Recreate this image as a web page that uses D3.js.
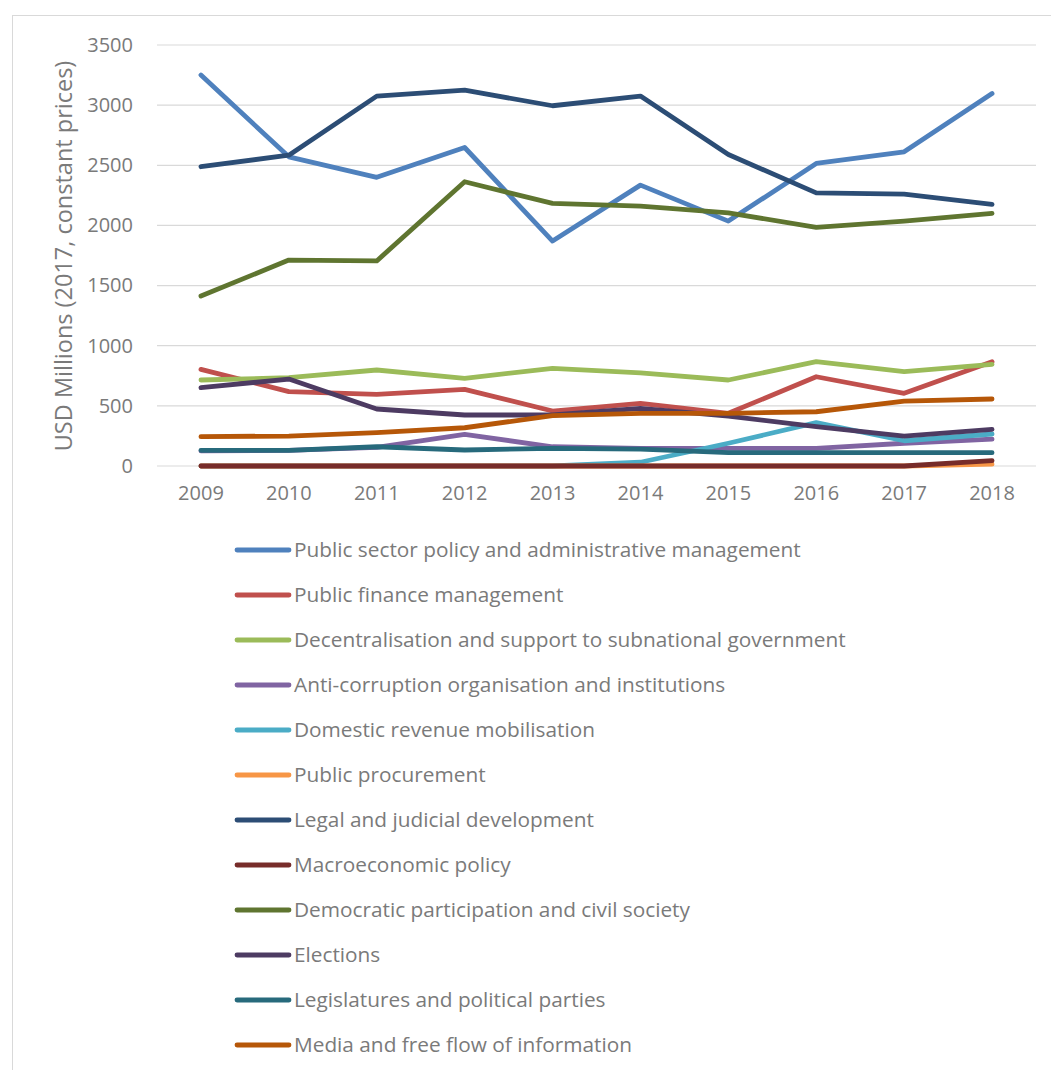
<!DOCTYPE html>
<html>
<head>
<meta charset="utf-8">
<script src="https://cdn.jsdelivr.net/npm/d3@7"></script>
<style>
  body { margin: 0; background: #fff; }
  text { font-family: "Open Sans", Lato, sans-serif; fill: #7a7a7a; }
</style>
</head>
<body>
<svg id="chart" width="1051" height="1070"></svg>
<script>
// the data
const years = ["2009", "2010", "2011", "2012", "2013", "2014", "2015", "2016", "2017", "2018"];
const yTicks = [0, 500, 1000, 1500, 2000, 2500, 3000, 3500];

const seriesNames = [
  "Public sector policy and administrative management",
  "Public finance management",
  "Decentralisation and support to subnational government",
  "Anti-corruption organisation and institutions",
  "Domestic revenue mobilisation",
  "Public procurement",
  "Legal and judicial development",
  "Macroeconomic policy",
  "Democratic participation and civil society",
  "Elections",
  "Legislatures and political parties",
  "Media and free flow of information"
];
const seriesColors = ["#4F81BD", "#C0504D", "#9BBB59", "#8064A2", "#4BACC6", "#F79646",
  "#2C4D75", "#772C2A", "#5F7530", "#4D3B62", "#276A7C", "#B65708"];

const publicSector   = [3250, 2570, 2400, 2648, 1870, 2335, 2036, 2515, 2612, 3097];
const publicFinance  = [803, 618, 596, 637, 457, 521, 438, 742, 604, 867];
const decentral      = [715, 734, 798, 729, 812, 775, 715, 867, 784, 845];
const antiCorruption = [125, 130, 155, 263, 160, 147, 147, 147, 189, 224];
const domesticRev    = [0, 0, 0, 0, 0, 31, 189, 360, 210, 266];
const procurement    = [0, 0, 0, 0, 0, 0, 0, 0, 0, 15];
const legalJudicial  = [2488, 2584, 3075, 3124, 2995, 3075, 2590, 2271, 2260, 2175];
const macroecon      = [0, 0, 0, 0, 0, 0, 0, 0, 0, 44];
const democratic     = [1413, 1712, 1705, 2363, 2183, 2160, 2105, 1983, 2036, 2100];
const elections      = [651, 723, 474, 424, 424, 479, 415, 327, 249, 305];
const legislatures   = [130, 130, 160, 133, 147, 141, 111, 111, 111, 111];
const media          = [244, 249, 277, 318, 418, 438, 438, 451, 540, 557];

const allValues = [publicSector, publicFinance, decentral, antiCorruption, domesticRev, procurement,
  legalJudicial, macroecon, democratic, elections, legislatures, media];

const series = seriesNames.map((n, i) => ({name: n, color: seriesColors[i], values: allValues[i]}));

// The svg
let svg = d3.select("#chart");

// chart frame
svg.append("rect")
  .attr("x", 12.5).attr("y", 15.5)
  .attr("width", 1060).attr("height", 1080)
  .attr("fill", "none").attr("stroke", "#D9D9D9");

let x = d3.scaleBand().domain(years).range([157, 1036]);
let y = d3.scaleLinear().domain([0, 3500]).range([466, 45]);

// gridlines
svg.append("g")
  .selectAll("line")
  .data(yTicks)
  .enter().append("line")
  .attr("x1", 157).attr("x2", 1036)
  .attr("y1", d => y(d)).attr("y2", d => y(d))
  .attr("stroke", "#D9D9D9").attr("stroke-width", 1.2);

// y axis
let yAxis = svg.append("g")
  .attr("transform", "translate(145,0)")
  .call(d3.axisLeft(y).tickValues(yTicks).tickFormat(d3.format("d")).tickSize(0).tickPadding(12));
yAxis.select(".domain").remove();
yAxis.selectAll("text").attr("font-size", 20).attr("fill", "#7a7a7a").attr("font-family", "'Open Sans', sans-serif");

// x axis
let xAxis = svg.append("g")
  .attr("transform", "translate(0,480)")
  .call(d3.axisBottom(x).tickSize(0).tickPadding(6));
xAxis.select(".domain").remove();
xAxis.selectAll("text").attr("font-size", 20).attr("fill", "#7a7a7a").attr("font-family", "'Open Sans', sans-serif");

// axis title
svg.append("text")
  .attr("transform", "translate(72,256) rotate(-90)")
  .attr("text-anchor", "middle")
  .attr("font-size", 23.5)
  .text("USD Millions (2017, constant prices)");

// lines
let line = d3.line()
  .x((d, i) => x(years[i]) + x.bandwidth() / 2)
  .y(d => y(d));

svg.append("g")
  .selectAll("path")
  .data(series)
  .enter().append("path")
  .attr("d", d => line(d.values))
  .attr("fill", "none")
  .attr("stroke", d => d.color)
  .attr("stroke-width", 4.8)
  .attr("stroke-linecap", "round")
  .attr("stroke-linejoin", "round");

// legend
let legend = svg.append("g")
  .selectAll("g")
  .data(series)
  .enter().append("g")
  .attr("transform", (d, i) => "translate(0," + (550 + i * 45) + ")");

legend.append("line")
  .attr("x1", 237).attr("x2", 289)
  .attr("stroke", d => d.color)
  .attr("stroke-width", 4.8)
  .attr("stroke-linecap", "round");

legend.append("text")
  .attr("x", 294)
  .attr("dy", "0.35em")
  .attr("font-size", 20.8)
  .text(d => d.name);
</script>
</body>
</html>
